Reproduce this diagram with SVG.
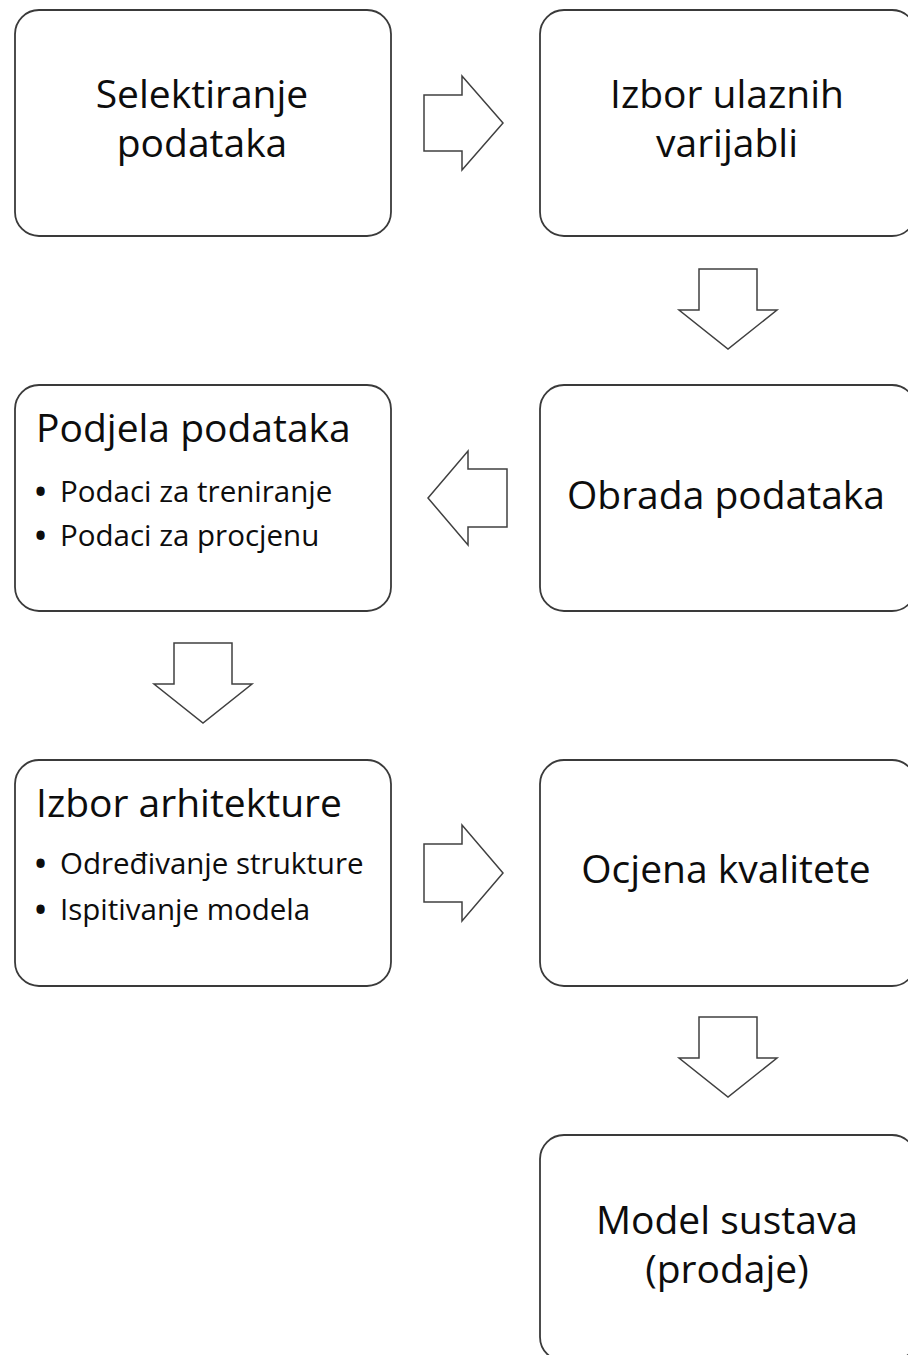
<svg xmlns="http://www.w3.org/2000/svg" width="908" height="1355" viewBox="0 0 908 1355">
<style>
.box{fill:#ffffff;stroke:#3a3a3a;stroke-width:1.8}
.arr{fill:#ffffff;stroke:#404040;stroke-width:1.5;stroke-linejoin:miter}
.t{font-family:"Open Sans","Noto Sans",sans-serif;font-size:39px;fill:#0d0d0d}
.c{text-anchor:middle}
.b{font-family:"Open Sans","Noto Sans",sans-serif;font-size:29.5px;fill:#0d0d0d}
.d{font-weight:bold}
</style>
<rect width="908" height="1355" fill="#ffffff"/>
<g id="connectors">
<polygon class="arr" points="424,95 462,95 462,76 503,123 462,170 462,151 424,151"/>
<polygon class="arr" points="699,269 757,269 757,310 777,310 728,349 679,310 699,310"/>
<polygon class="arr" points="507,469 468,469 468,451 428,498 468,545 468,527 507,527"/>
<polygon class="arr" points="174,643 232,643 232,684 252,684 203,723 154,684 174,684"/>
<polygon class="arr" points="424,844 462,844 462,825 503,873 462,921 462,902 424,902"/>
<polygon class="arr" points="699,1017 757,1017 757,1058 777,1058 728,1097 679,1058 699,1058"/>
</g>
<g id="n1">
<rect class="box" x="15" y="10" width="376" height="226" rx="24"/>
<text class="t c" x="202" y="108">Selektiranje</text>
<text class="t c" x="202" y="157">podataka</text>
</g>
<g id="n2">
<rect class="box" x="540" y="10" width="376" height="226" rx="24"/>
<text class="t c" x="727" y="108">Izbor ulaznih</text>
<text class="t c" x="727" y="157">varijabli</text>
</g>
<g id="n3">
<rect class="box" x="540" y="385" width="376" height="226" rx="24"/>
<text class="t c" x="726" y="509">Obrada podataka</text>
</g>
<g id="n4">
<rect class="box" x="15" y="385" width="376" height="226" rx="24"/>
<text class="t" x="36" y="442">Podjela podataka</text>
<text class="b" y="502"><tspan class="d" x="35">•</tspan><tspan x="60">Podaci za treniranje</tspan></text>
<text class="b" y="546"><tspan class="d" x="35">•</tspan><tspan x="60">Podaci za procjenu</tspan></text>
</g>
<g id="n5">
<rect class="box" x="15" y="760" width="376" height="226" rx="24"/>
<text class="t" x="36" y="817">Izbor arhitekture</text>
<text class="b" y="874"><tspan class="d" x="35">•</tspan><tspan x="60">Određivanje strukture</tspan></text>
<text class="b" y="920"><tspan class="d" x="35">•</tspan><tspan x="60">Ispitivanje modela</tspan></text>
</g>
<g id="n6">
<rect class="box" x="540" y="760" width="376" height="226" rx="24"/>
<text class="t c" x="726" y="883">Ocjena kvalitete</text>
</g>
<g id="n7">
<rect class="box" x="540" y="1135" width="376" height="226" rx="24"/>
<text class="t c" x="727" y="1234">Model sustava</text>
<text class="t c" x="727" y="1283">(prodaje)</text>
</g>
</svg>
